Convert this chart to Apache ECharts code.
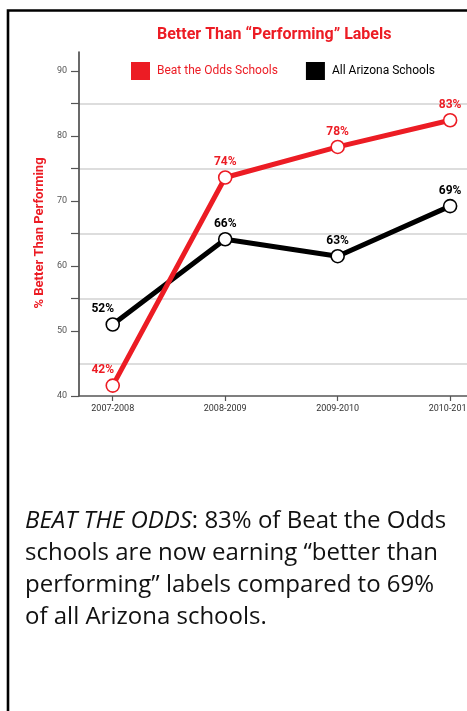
<!DOCTYPE html>
<html><head><meta charset="utf-8">
<script src="https://cdn.jsdelivr.net/npm/echarts@6/dist/echarts.min.js"></script>
<style>html,body{margin:0;padding:0;background:#fff}#c{width:467px;height:711px}</style>
</head><body><div id="c"></div>
<script>
const categories = ['2007-2008', '2008-2009', '2009-2010', '2010-2011'];
const beatOdds = [41.6, 73.6, 78.3, 82.4];
const beatOddsLabels = ['42%', '74%', '78%', '83%'];
const allArizona = [51.0, 64.1, 61.5, 69.2];
const allArizonaLabels = ['52%', '66%', '63%', '69%'];
const yLabels = [40, 50, 60, 70, 80, 90];
const yTickMarks = [40, 50, 55, 60, 65, 70, 75, 80, 85, 90];
const yGrid = [45, 55, 65, 75, 85];
const seriesNames = ['Beat the Odds Schools', 'All Arizona Schools'];
const titleText = 'Better Than \u201cPerforming\u201d Labels';
const yName = '% Better Than Performing';
const captionItalic = 'BEAT THE ODDS';
const captionRest = ': 83% of Beat the Odds\nschools are now earning \u201cbetter than\nperforming\u201d labels compared to 69%\nof all Arizona schools.';

const RED = '#ec1c24';
const BLACK = '#000000';
const NARROW = 'Roboto, "Liberation Sans", Arial, sans-serif';
const xIdx = categories.map((c, i) => i);

function buildData(vals, labels) {
  return vals.map((v, i) => ({
    value: [i, v],
    label: { formatter: labels[i], offset: i === 0 ? [-10, 0] : [0, 0] }
  }));
}

function lineSeries(name, vals, labels, color, z) {
  return {
    name: name, type: 'line', z: z,
    data: buildData(vals, labels),
    symbol: 'circle', symbolSize: 13,
    lineStyle: { color: color, width: 5 },
    itemStyle: { color: '#ffffff', borderColor: color, borderWidth: 1.6 },
    label: { show: true, position: 'top', distance: 2, color: color,
             fontFamily: NARROW, fontWeight: 'bold', fontSize: 12 },
    emphasis: { disabled: true }, animation: false
  };
}

const chart = echarts.init(document.getElementById('c'), null, { renderer: 'canvas' });
chart.setOption({
  backgroundColor: '#ffffff',
  animation: false,
  title: { text: titleText, left: 157, top: 27, padding: 0,
    textStyle: { color: RED, fontFamily: NARROW, fontWeight: 'bold', fontSize: 16 } },
  legend: {
    left: 131, top: 62, padding: 0, itemWidth: 19, itemHeight: 18, itemGap: 28, icon: 'rect',
    selectedMode: false, width: 330,
    textStyle: { fontFamily: NARROW, fontSize: 12, padding: [0, 0, 0, 2] },
    data: [
      { name: seriesNames[0], itemStyle: { color: RED, borderWidth: 0 }, textStyle: { color: RED } },
      { name: seriesNames[1], itemStyle: { color: BLACK, borderWidth: 0 }, textStyle: { color: BLACK } }
    ]
  },
  grid: { left: 79, right: 0, top: 52, bottom: 315, containLabel: false, outerBoundsMode: 'none' },
  xAxis: {
    type: 'value', min: -0.3, max: 3.15,
    axisLine: { show: true, onZero: false, lineStyle: { color: '#555', width: 1.5 } },
    axisTick: { show: true, customValues: xIdx, length: 5, lineStyle: { color: '#555', width: 1.2 } },
    axisLabel: { customValues: xIdx, formatter: v => categories[Math.round(v)],
      fontFamily: NARROW, fontSize: 9, color: '#333', margin: 8 },
    splitLine: { show: false }
  },
  yAxis: [
    {
      type: 'value', min: 40, max: 92.9, position: 'left',
      name: yName, nameLocation: 'middle', nameGap: 31,
      nameTextStyle: { color: RED, fontFamily: NARROW, fontWeight: 'bold', fontSize: 13, padding: [0, 18, 0, 0] },
      axisLine: { show: true, onZero: false, lineStyle: { color: '#444', width: 1.6 } },
      axisTick: { show: true, customValues: yTickMarks, length: 8, lineStyle: { color: '#555', width: 1.2 } },
      axisLabel: { customValues: yLabels, fontFamily: NARROW, fontSize: 9, color: '#555', margin: 12 },
      splitLine: { show: false }
    },
    {
      type: 'value', min: 40, max: 92.9, position: 'left',
      axisLine: { show: false, onZero: false },
      axisTick: { show: false, customValues: yGrid },
      axisLabel: { show: false },
      splitLine: { show: true, lineStyle: { color: '#d2d2d2', width: 1.5 } }
    }
  ],
  series: [
    lineSeries(seriesNames[1], allArizona, allArizonaLabels, BLACK, 2),
    lineSeries(seriesNames[0], beatOdds, beatOddsLabels, RED, 3)
  ],
  graphic: [
    { type: 'rect', silent: true, z: -1,
      shape: { x: 8, y: 10.5, width: 520, height: 800 },
      style: { fill: 'none', stroke: '#000', lineWidth: 2.6 } },
    { type: 'text', silent: true, left: 25, top: 505,
      style: {
        text: '{i|' + captionItalic + '}' + captionRest,
        fill: '#111', fontFamily: '"Open Sans", sans-serif', fontSize: 24, lineHeight: 32,
        rich: { i: { fontStyle: 'italic', fill: '#111', fontFamily: '"Open Sans", sans-serif', fontSize: 24, lineHeight: 32 } }
      } }
  ]
});
</script>
</body></html>
